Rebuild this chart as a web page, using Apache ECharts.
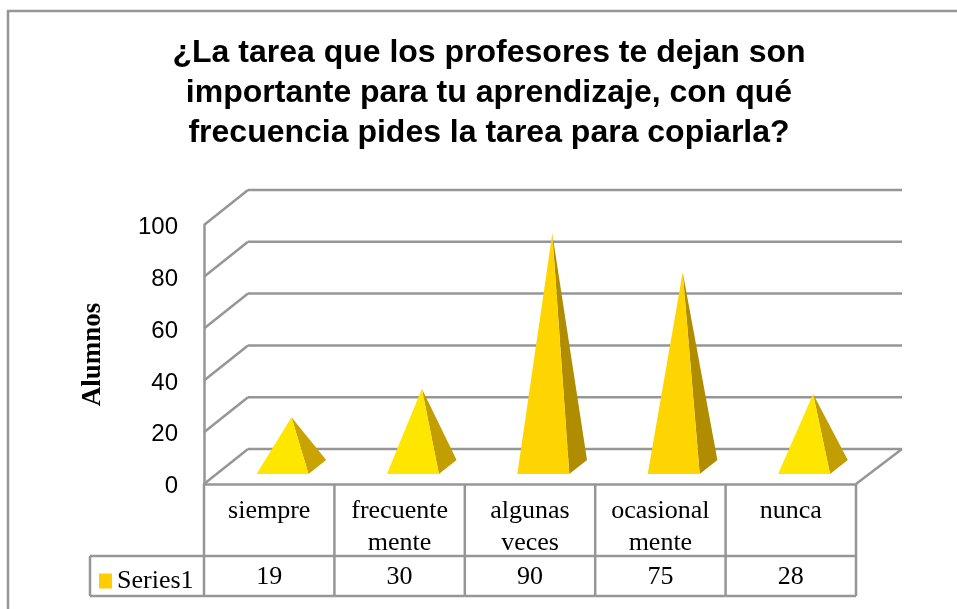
<!DOCTYPE html>
<html><head><meta charset="utf-8">
<style>html,body{margin:0;padding:0;background:#fff}#c{width:957px;height:609px}</style>
<script src="https://cdn.jsdelivr.net/npm/echarts@6/dist/echarts.min.js"></script>
</head><body><div id="c"></div>
<script>
const titleText = '¿La tarea que los profesores te dejan son\nimportante para tu aprendizaje, con qué\nfrecuencia pides la tarea para copiarla?';
const categories = ['siempre', 'frecuente\nmente', 'algunas\nveces', 'ocasional\nmente', 'nunca'];
const seriesName = 'Series1';
const seriesValues = [19, 30, 90, 75, 28];
const yTicks = [0, 20, 40, 60, 80, 100];
const yAxisName = 'Alumnos';
const frontColors = ['#FFE600', '#FFE600', '#FFD500', '#FFD500', '#FFE600'];
const sideColors = ['#C9A300', '#C29E00', '#B08C00', '#B08C00', '#C29E00'];

const GREY = '#969696';
const LW = 2.5;
const DX = 44, DY = -35;
const line = (x1, y1, x2, y2) => ({type:'line', shape:{x1,y1,x2,y2}, style:{stroke:GREY, lineWidth:LW, fill:null}});

const chart = echarts.init(document.getElementById('c'), null, {renderer:'canvas'});
chart.setOption({
  animation:false,
  backgroundColor:'#fff',
  title:{text:titleText, left:484, top:28, textAlign:'center',
    textStyle:{fontFamily:'Liberation Sans', fontWeight:'bold', fontSize:32, lineHeight:40, color:'#000'}},
  legend:{data:[{name:seriesName, icon:'rect'}], left:99, top:568, padding:0, itemWidth:13, itemHeight:15, selectedMode:false,
    textStyle:{fontFamily:'Liberation Serif', fontSize:26, color:'#000'}},
  graphic:[{type:'rect', silent:true, shape:{x:8, y:11, width:1000, height:700}, style:{fill:null, stroke:GREY, lineWidth:LW}}],
  grid:{left:204, right:101, top:225, bottom:125, containLabel:false},
  xAxis:{type:'category', data:categories, boundaryGap:true,
    axisLine:{show:true, lineStyle:{color:GREY, width:LW}}, axisTick:{show:false},
    axisLabel:{interval:0, hideOverlap:false, margin:11, fontFamily:'Liberation Serif', fontSize:26, lineHeight:32, color:'#000'}},
  yAxis:{type:'value', min:0, max:100, interval:20, name:yAxisName, nameLocation:'middle', nameGap:97, nameRotate:90,
    nameTextStyle:{fontFamily:'Liberation Serif', fontWeight:'bold', fontSize:27, color:'#000'},
    axisLine:{show:true, lineStyle:{color:GREY, width:LW}}, axisTick:{show:false}, splitLine:{show:false},
    axisLabel:{margin:26, verticalAlign:'top', lineHeight:5, fontFamily:'Liberation Sans', fontSize:24, color:'#000'}},
  series:[
    {type:'custom', name:'walls', silent:true, clip:false, z:1, data:yTicks.map(t=>[0,t]),
     renderItem(params, api){
       const t = api.value(1), cs = params.coordSys, y = api.coord([0,t])[1];
       const x0 = cs.x, x1 = cs.x+DX, x2 = cs.x+cs.width+DX+2, yb = y+DY;
       const ch = [line(x0,y,x1,yb), line(x1,yb,x2,yb)];
       if (t===0) ch.push(line(cs.x+cs.width,y,x2,yb));
       return {type:'group', children:ch};
     }},
    {type:'custom', name:'table', silent:true, clip:false, z:1, data:seriesValues.map((v,i)=>[i,v]),
     renderItem(params, api){
       const i = api.value(0), cs = params.coordSys, w = cs.width/categories.length;
       const xl = cs.x+i*w, xr = xl+w, y0 = cs.y+cs.height, y1 = y0+72, y2 = y0+112;
       const ch = [line(xr,y0,xr,y2), line(xl,y1,xr,y1), line(xl,y2,xr,y2),
         {type:'text', style:{text:String(api.value(1)), x:(xl+xr)/2, y:(y1+y2)/2+1, align:'center', verticalAlign:'middle',
            font:'26px "Liberation Serif"', fill:'#000'}}];
       if (i===0) {
         const xo = cs.x-114;
         ch.push(line(cs.x,y0,cs.x,y2), line(xo,y1,xl,y1), line(xo,y2,xl,y2), line(xo,y1,xo,y2));
       }
       return {type:'group', children:ch};
     }},
    {type:'custom', name:seriesName, clip:false, z:3, itemStyle:{color:'#FFCC00'}, data:seriesValues.map((v,i)=>[i,v]),
     encode:{x:0,y:1},
     renderItem(params, api){
       const i = api.value(0), v = api.value(1);
       const base = api.coord([i,0]), top = api.coord([i,v]);
       const hw = 26;
       const fx = base[0]+13.3, fy = base[1]-10;
       const bx = fx+hw+17.7, by = fy-14;
       const ax = top[0]+DX/2+0.3, ay = top[1]+DY/2;
       return {type:'group', children:[
         {type:'polygon', shape:{points:[[fx+hw,fy],[bx,by],[ax,ay]]}, style:{fill:sideColors[i]}},
         {type:'polygon', shape:{points:[[fx-hw,fy],[fx+hw,fy],[ax,ay]]}, style:{fill:frontColors[i]}}
       ]};
     }}
  ]
});
</script></body></html>
